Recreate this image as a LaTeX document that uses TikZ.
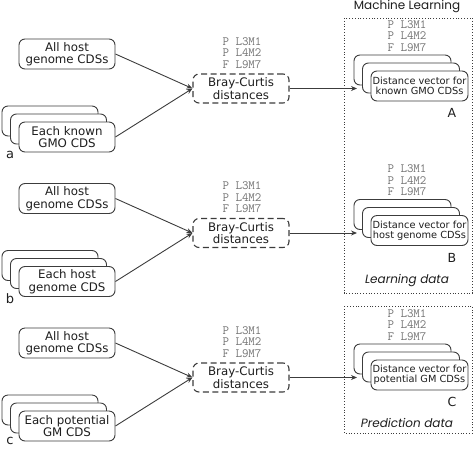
\documentclass[tikz,border=0pt]{standalone}
\usepackage{fontspec}
\setmainfont{DejaVu Sans}
\newfontfamily\geofam{Poppins}
\usetikzlibrary{arrows.meta}
\definecolor{boxc}{RGB}{60,60,60}
\definecolor{txtc}{RGB}{30,30,30}
\definecolor{monoc}{RGB}{115,115,115}
\tikzset{
  base/.style={draw=boxc, line width=0.9pt, rounded corners=6pt, fill=white,
    minimum width=96pt, minimum height=30pt, align=center, text=txtc, inner sep=1pt,
    font=\fontsize{11.8}{12.5}\selectfont},
  inbox/.style={base},
  bcbox/.style={base, line width=1.1pt, dash pattern=on 6pt off 3.5pt, minimum height=29pt},
  dvbox/.style={base, minimum width=97pt, font=\fontsize{9.8}{10.3}\selectfont},
  mlframe/.style={draw=boxc, line width=1pt, dash pattern=on 1pt off 1.8pt},
  montxt/.style={align=left, text=monoc, inner sep=0pt, font=\ttfamily\fontsize{12.6}{11.6}\selectfont},
  conn/.style={draw=boxc, line width=0.9pt, -{Stealth[length=6pt,width=5pt]}},
  lbl/.style={text=txtc, inner sep=0pt, font=\fontsize{13}{14}\selectfont},
  geo/.style={text=txtc, inner sep=0pt, font=\geofam\fontsize{12}{13}\selectfont},
}
\begin{document}
\begin{tikzpicture}[x=1pt,y=-1pt]
\useasboundingbox (0,0) rectangle (474,448);
% ML frames
\node[geo] (mltitle) at (407,6.5) {Machine Learning};
\draw[mlframe] (344,18) rectangle (472.5,293);
\draw[mlframe] (344,306) rectangle (472.5,433);
\node[geo, font=\geofam\itshape\fontsize{12}{13}\selectfont] (learn) at (407,281) {Learning data};
\node[geo, font=\geofam\itshape\fontsize{12}{13}\selectfont] (pred) at (407,423) {Prediction data};
\foreach \r/\dy/\ly/\txt/\lab/\dv/\cap in {
  a/0/155/{Each known\\GMO CDS}/a/{Distance vector for\\known GMO CDSs}/A,
  b/144.5/299/{Each host\\genome CDS}/b/{Distance vector for\\host genome CDSs}/B,
  c/289/440.5/{Each potential\\GM CDS}/c/{Distance vector for\\potential GM CDSs}/C}{
  \node[inbox] (host\r) at (67,54+\dy) {All host\\genome CDSs};
  \node[inbox] (back\r) at (50,121+\dy) {};
  \node[inbox] (mid\r) at (58.5,129+\dy) {};
  \node[inbox] (each\r) at (67,137+\dy) {\txt};
  \node[lbl] (lab\r) at (10,\ly) {\lab};
  \node[montxt] (pl\r) at (242,53+\dy) {P L3M1\\P L4M2\\F L9M7};
  \node[bcbox] (bc\r) at (241,88.5+\dy) {Bray-Curtis\\distances};
  \draw[conn] (host\r.east) -- (bc\r.west);
  \draw[conn] (each\r.east) -- (bc\r.west);
  \node[montxt] (pr\r) at (407,36+\dy) {P L3M1\\P L4M2\\F L9M7};
  \node[dvbox] (dvback\r) at (402.5,70+\dy) {};
  \node[dvbox] (dvmid\r) at (411,78+\dy) {};
  \node[dvbox] (dv\r) at (419.5,86+\dy) {\dv};
  \coordinate (tgt\r) at (357,88.5+\dy);
  \draw[conn] (bc\r.east) -- (tgt\r);
  \node[lbl, font=\fontsize{12.5}{13}\selectfont] (cap\r) at (452,113+\dy) {\cap};
}
\end{tikzpicture}
\end{document}
